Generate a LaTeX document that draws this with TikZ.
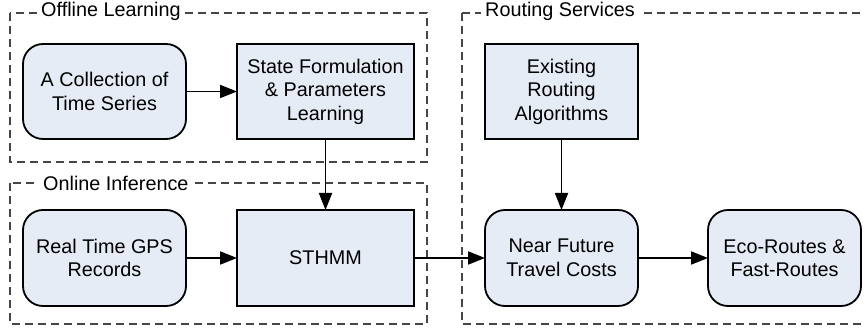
\documentclass[tikz,border=0pt]{standalone}
\usepackage{fontspec}
\setmainfont{Liberation Sans}
\usetikzlibrary{arrows.meta}
\definecolor{boxfill}{RGB}{230,236,246}
\definecolor{dashgray}{RGB}{70,70,70}
\begin{document}
\begin{tikzpicture}[x=1pt,y=-1pt,
  every node/.style={font=\fontsize{19.8}{23.5}\selectfont},
  group/.style={draw=dashgray, line width=1.1pt, dash pattern=on 8pt off 5pt},
  grouplabel/.style={fill=white, inner xsep=4pt, inner ysep=1pt, anchor=west},
  roundbox/.style={draw=black, line width=1.8pt, fill=boxfill, rounded corners=20pt, align=center},
  sqbox/.style={draw=black, line width=1.8pt, fill=boxfill, align=center},
  conn/.style={line width=1.8pt, -{Triangle[length=17pt,width=13pt]}}
]
\useasboundingbox (0,0) rectangle (865,328);
% groups
\draw[group] (10,13) rectangle (427,162);
\draw[group] (10,183) rectangle (427,324);
\draw[group] (462,13) -- (880,13) (462,13) -- (462,324) -- (880,324);
\node[grouplabel] (gl1) at (37,11) {Offline Learning};
\node[grouplabel] (gl2) at (39,183) {Online Inference};
\node[grouplabel] (gl3) at (481,11) {Routing Services};
% nodes
\path[roundbox] (23,44) rectangle (186,139);
\node[align=center] (coll) at (104.5,91.5) {A Collection of\\Time Series};
\coordinate (collE) at (186,91.5);
\path[sqbox] (237,44) rectangle (414,139);
\node[align=center] (state) at (325.5,91.5) {State Formulation\\\& Parameters\\Learning};
\coordinate (stateW) at (237,91.5);
\coordinate (stateS) at (325.5,139);
\path[roundbox] (23,210) rectangle (186,306);
\node[align=center] (gps) at (104.5,258) {Real Time GPS\\Records};
\coordinate (gpsE) at (186,258);
\path[sqbox] (237,210) rectangle (414,306);
\node (sthmm) at (325.5,258) {STHMM};
\coordinate (sthmmN) at (325.5,210);
\coordinate (sthmmW) at (237,258);
\coordinate (sthmmE) at (414,258);
\path[sqbox] (485,44) rectangle (638,139);
\node[align=center] (exist) at (561.5,91.5) {Existing\\Routing\\Algorithms};
\coordinate (existS) at (561.5,139);
\path[roundbox] (485,210) rectangle (638,306);
\node[align=center] (near) at (561.5,258) {Near Future\\Travel Costs};
\coordinate (nearN) at (561.5,210);
\coordinate (nearW) at (485,258);
\coordinate (nearE) at (638,258);
\path[roundbox] (708,210) rectangle (861,306);
\node[align=center] (eco) at (784.5,258) {Eco-Routes \&\\Fast-Routes};
\coordinate (ecoW) at (708,258);
% connectors
\draw[conn] (collE) -- (stateW);
\draw[conn] (stateS) -- (sthmmN);
\draw[conn] (gpsE) -- (sthmmW);
\draw[conn] (sthmmE) -- (nearW);
\draw[conn] (existS) -- (nearN);
\draw[conn] (nearE) -- (ecoW);
\end{tikzpicture}
\end{document}
